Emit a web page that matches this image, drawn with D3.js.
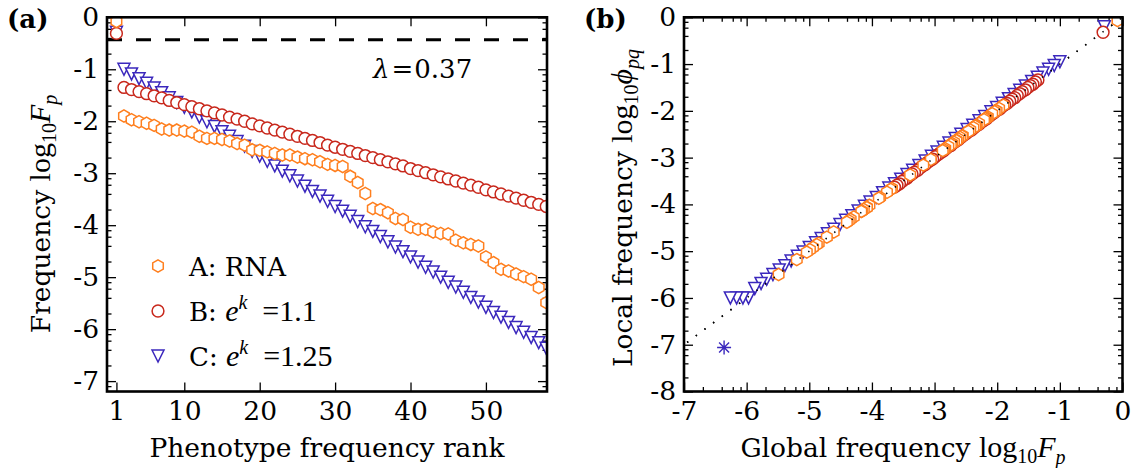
<!DOCTYPE html>
<html>
<head>
<meta charset="utf-8">
<script src="https://cdn.jsdelivr.net/npm/d3@7"></script>
<style>
  body { margin: 0; background: #fff; }
  svg text { font-family: "DejaVu Serif", serif; fill: #000; }
</style>
</head>
<body>
<div id="chart"></div>
<script>
const WIDTH = 1146, HEIGHT = 468;
const FONT = 26.5;

// phenotype rank, 1 = most frequent
const ranks = d3.range(1, 59);

// log10 of global phenotype frequency F_p, by rank
const freqA = [-0.08, -1.90, -1.97, -2.01, -2.04, -2.08, -2.15, -2.17, -2.17, -2.19, -2.21, -2.29, -2.33, -2.33, -2.35,
  -2.38, -2.43, -2.46, -2.55, -2.56, -2.59, -2.62, -2.65, -2.65, -2.69, -2.72, -2.74, -2.78, -2.83, -2.85, -2.87,
  -3.06, -3.18, -3.39, -3.68, -3.70, -3.76, -3.87, -3.89, -4.04, -4.08, -4.08, -4.13, -4.16, -4.17, -4.29, -4.34,
  -4.37, -4.40, -4.61, -4.72, -4.85, -4.88, -4.94, -4.99, -5.04, -5.20, -5.49];
const freqB = [-0.31, -1.35, -1.39, -1.43, -1.47, -1.51, -1.55, -1.60, -1.64, -1.68, -1.72, -1.76, -1.80, -1.84, -1.88,
  -1.92, -1.96, -2.00, -2.05, -2.09, -2.13, -2.17, -2.21, -2.25, -2.29, -2.33, -2.37, -2.41, -2.46, -2.50, -2.54,
  -2.58, -2.62, -2.66, -2.70, -2.74, -2.78, -2.82, -2.86, -2.91, -2.95, -2.99, -3.03, -3.07, -3.11, -3.15, -3.19,
  -3.23, -3.27, -3.32, -3.36, -3.40, -3.44, -3.48, -3.52, -3.56, -3.60, -3.64];
const freqC = [-0.29, -1.00, -1.09, -1.18, -1.27, -1.36, -1.45, -1.55, -1.64, -1.73, -1.82, -1.92, -2.01, -2.10, -2.20,
  -2.29, -2.39, -2.48, -2.58, -2.67, -2.77, -2.86, -2.96, -3.05, -3.15, -3.25, -3.35, -3.44, -3.54, -3.64, -3.73,
  -3.83, -3.93, -4.03, -4.12, -4.22, -4.32, -4.42, -4.51, -4.61, -4.71, -4.81, -4.90, -5.00, -5.10, -5.19, -5.29,
  -5.39, -5.48, -5.58, -5.68, -5.77, -5.87, -5.97, -6.06, -6.16, -6.26, -6.37];

// log10 of local frequency phi_pq, same order as above
const localA = [-0.07, -1.88, -1.95, -2.00, -2.02, -2.06, -2.13, -2.15, -2.16, -2.17, -2.19, -2.27, -2.31, -2.32, -2.33,
  -2.36, -2.41, -2.44, -2.53, -2.54, -2.57, -2.60, -2.63, -2.64, -2.67, -2.70, -2.72, -2.76, -2.81, -2.83, -2.85,
  -3.04, -3.16, -3.37, -3.66, -3.68, -3.74, -3.85, -3.87, -4.02, -4.06, -4.07, -4.11, -4.14, -4.15, -4.27, -4.32,
  -4.35, -4.38, -4.59, -4.70, -4.83, -4.86, -4.92, -4.97, -5.02, -5.18, -5.50];
const localB = [-0.32, -1.34, -1.38, -1.43, -1.46, -1.50, -1.55, -1.59, -1.63, -1.67, -1.72, -1.75, -1.79, -1.84, -1.87,
  -1.91, -1.96, -1.99, -2.04, -2.08, -2.12, -2.17, -2.20, -2.24, -2.29, -2.32, -2.36, -2.41, -2.45, -2.49, -2.53,
  -2.57, -2.62, -2.65, -2.69, -2.74, -2.77, -2.81, -2.86, -2.90, -2.94, -2.98, -3.03, -3.06, -3.10, -3.15, -3.18,
  -3.22, -3.27, -3.31, -3.35, -3.39, -3.44, -3.47, -3.51, -3.56, -3.59, -3.63];
// C: ranks 1..57 (rank 58 was never seen locally, drawn as a star)
const localC = [-0.20, -0.95, -1.03, -1.11, -1.19, -1.28, -1.37, -1.47, -1.56, -1.65, -1.74, -1.84, -1.93, -2.02, -2.12,
  -2.21, -2.31, -2.40, -2.50, -2.59, -2.69, -2.78, -2.88, -2.97, -3.07, -3.17, -3.27, -3.36, -3.46, -3.56, -3.65,
  -3.75, -3.85, -3.95, -4.04, -4.14, -4.24, -4.34, -4.43, -4.53, -4.63, -4.73, -4.82, -4.92, -5.02, -5.11, -5.21,
  -5.31, -5.40, -5.50, -5.60, -5.69, -5.80, -6.00, -6.00, -6.00, -6.00];
const missedGlobal = [-6.36];
const missedLocal = [-7.06];

const lambda = 0.37;

const rankTicks = [1, 10, 20, 30, 40, 50];
const freqTicks = [0, -1, -2, -3, -4, -5, -6, -7];
const globalTicks = [-7, -6, -5, -4, -3, -2, -1, 0];
const localTicks = [0, -1, -2, -3, -4, -5, -6, -7, -8];

const COLORS = {A: '#ff7f1e', B: '#c8281c', C: '#3b28bd'};

const svg = d3.select('#chart').append('svg')
    .attr('width', WIDTH)
    .attr('height', HEIGHT);

// scales
const xRank = d3.scaleLinear().domain([-0.25, 58.1]).range([107, 547]);
const yFreq = d3.scaleLinear().domain([-7.2, 0]).range([391.5, 17.3]);
const xGlobal = d3.scaleLinear().domain([-7, 0]).range([684, 1122.5]);
const yLocal = d3.scaleLinear().domain([-8, 0]).range([391.5, 17.3]);

// minor ticks at log10(2,4,6,8 x 10^n)
function logMinor(lo, hi) {
    let out = [];
    for (let d = Math.floor(lo); d < Math.ceil(hi); d++) {
        [2, 4, 6, 8].forEach(k => {
            let v = d + Math.log10(k);
            if (v > lo && v < hi) out.push(v);
        });
    }
    return out;
}

const fmt = d => String(d);

function styleAxis(sel) {
    sel.select('.domain').remove();
    sel.selectAll('line').attr('stroke', '#000').attr('stroke-width', 1.3);
    sel.attr('font-family', 'DejaVu Serif').attr('font-size', FONT);
}

function drawAxes(x, y, xMajor, yMajor, xMinor, yMinor) {
    let [l, r] = x.range();
    let [b, t] = y.range();
    let g = svg.append('g');

    g.append('g').attr('transform', `translate(0,${b})`)
        .call(d3.axisBottom(x).tickValues(xMajor).tickSize(-9).tickPadding(10).tickFormat(fmt)).call(styleAxis);
    g.append('g').attr('transform', `translate(0,${t})`)
        .call(d3.axisTop(x).tickValues(xMajor).tickSize(-9).tickFormat('')).call(styleAxis);
    g.append('g').attr('transform', `translate(${l},0)`)
        .call(d3.axisLeft(y).tickValues(yMajor).tickSize(-9).tickPadding(8).tickFormat(fmt)).call(styleAxis);
    g.append('g').attr('transform', `translate(${r},0)`)
        .call(d3.axisRight(y).tickValues(yMajor).tickSize(-9).tickFormat('')).call(styleAxis);

    if (xMinor.length) {
        g.append('g').attr('transform', `translate(0,${b})`)
            .call(d3.axisBottom(x).tickValues(xMinor).tickSize(-4.5).tickFormat('')).call(styleAxis);
        g.append('g').attr('transform', `translate(0,${t})`)
            .call(d3.axisTop(x).tickValues(xMinor).tickSize(-4.5).tickFormat('')).call(styleAxis);
    }
    g.append('g').attr('transform', `translate(${l},0)`)
        .call(d3.axisLeft(y).tickValues(yMinor).tickSize(-4.5).tickFormat('')).call(styleAxis);
    g.append('g').attr('transform', `translate(${r},0)`)
        .call(d3.axisRight(y).tickValues(yMinor).tickSize(-4.5).tickFormat('')).call(styleAxis);
}

function frame(x, y) {
    let [l, r] = x.range();
    let [b, t] = y.range();
    svg.append('rect')
        .attr('x', l).attr('y', t)
        .attr('width', r - l).attr('height', b - t)
        .attr('fill', 'none')
        .attr('stroke', '#000')
        .attr('stroke-width', 2.6);
}

function clipFor(id, x, y) {
    let [l, r] = x.range();
    let [b, t] = y.range();
    svg.append('clipPath').attr('id', id)
        .append('rect').attr('x', l).attr('y', t).attr('width', r - l).attr('height', b - t);
    return svg.append('g').attr('clip-path', `url(#${id})`);
}

// marker shapes
function hexPath(r) {
    let pts = d3.range(6).map(i => {
        let a = Math.PI / 3 * i - Math.PI / 2;
        return [r * Math.cos(a), r * Math.sin(a)];
    });
    return 'M' + pts.map(p => p[0].toFixed(2) + ',' + p[1].toFixed(2)).join('L') + 'Z';
}
const MARKERS = {
    A: hexPath(6.1),
    B: d3.arc()({innerRadius: 0, outerRadius: 5.9, startAngle: 0, endAngle: 2 * Math.PI}),
    C: 'M0,6L-6,-6L6,-6Z'
};

function drawMarkers(g, xs, ys, x, y, key) {
    g.append('g').selectAll('path')
        .data(xs.map((v, i) => [v, ys[i]]))
        .join('path')
        .attr('transform', d => `translate(${x(d[0])},${y(d[1])})`)
        .attr('d', MARKERS[key])
        .attr('fill', '#fff')
        .attr('stroke', COLORS[key])
        .attr('stroke-width', 1.5);
}

// ---------------- panel (a)
drawAxes(xRank, yFreq, rankTicks, freqTicks, [], logMinor(-7.2, 0));
let plotA = clipFor('clipA', xRank, yFreq);

plotA.append('line')
    .attr('x1', xRank(-0.25)).attr('x2', xRank(58.1))
    .attr('y1', yFreq(Math.log10(lambda))).attr('y2', yFreq(Math.log10(lambda)))
    .attr('stroke', '#000')
    .attr('stroke-width', 2.8)
    .attr('stroke-dasharray', '15,14');

drawMarkers(plotA, ranks, freqC, xRank, yFreq, 'C');
drawMarkers(plotA, ranks, freqB, xRank, yFreq, 'B');
drawMarkers(plotA, ranks, freqA, xRank, yFreq, 'A');
frame(xRank, yFreq);

svg.append('text')
    .attr('x', 373).attr('y', 78)
    .attr('font-family', 'Liberation Serif')
    .attr('font-size', 26)
    .call(t => {
        t.append('tspan').attr('font-style', 'italic').text('λ');
        t.append('tspan').attr('dx', 2).text('=');
        t.append('tspan').attr('dx', 1).text('0.37');
    });

// legend
const legendItems = [
    {key: 'A', y: 266},
    {key: 'B', y: 311},
    {key: 'C', y: 356}
];
let legend = svg.append('g');
legendItems.forEach(item => {
    legend.append('path')
        .attr('transform', `translate(158,${item.y})`)
        .attr('d', MARKERS[item.key])
        .attr('fill', '#fff')
        .attr('stroke', COLORS[item.key])
        .attr('stroke-width', 1.5);
    let t = legend.append('text')
        .attr('x', 189).attr('y', item.y + 10)
        .attr('font-size', 26);
    if (item.key === 'A') {
        t.text('A: RNA');
    } else {
        t.append('tspan').text(item.key + ': ');
        t.append('tspan').attr('font-family', 'Liberation Serif').attr('font-style', 'italic')
            .attr('font-size', 30).text('e');
        t.append('tspan').attr('font-family', 'Liberation Serif').attr('font-style', 'italic')
            .attr('font-size', 20).attr('dy', -12).text('k');
        t.append('tspan').attr('font-family', 'Liberation Serif')
            .attr('font-size', 30).attr('dy', 12)
            .text('\u2002=' + (item.key === 'B' ? '1.1' : '1.25'));
    }
});

// axis labels (a)
svg.append('text')
    .attr('x', 327).attr('y', 457)
    .attr('text-anchor', 'middle')
    .attr('font-size', FONT)
    .text('Phenotype frequency rank');

function mathLabel(t, word, sym, sub) {
    t.append('tspan').text(word + ' ');
    t.append('tspan').attr('font-family', 'Liberation Serif').attr('font-size', 30).text('log');
    t.append('tspan').attr('font-family', 'Liberation Serif').attr('font-size', 20).attr('dy', 6).text('10');
    t.append('tspan').attr('font-family', 'Liberation Serif').attr('font-style', 'italic')
        .attr('font-size', 30).attr('dy', -6).text(sym);
    t.append('tspan').attr('font-family', 'Liberation Serif').attr('font-style', 'italic')
        .attr('font-size', 20).attr('dy', 7).text(sub);
}

svg.append('text')
    .attr('transform', 'translate(50,214) rotate(-90)')
    .attr('text-anchor', 'middle')
    .attr('font-size', FONT)
    .call(t => mathLabel(t, 'Frequency', 'F', 'p'));

// ---------------- panel (b)
drawAxes(xGlobal, yLocal, globalTicks, localTicks, logMinor(-7, 0), logMinor(-8, 0));
let plotB = clipFor('clipB', xGlobal, yLocal);

const diag = [-6.95, 0];
function drawDiagonal() {
    plotB.append('line')
        .attr('x1', xGlobal(diag[0])).attr('y1', yLocal(diag[0]))
        .attr('x2', xGlobal(diag[1])).attr('y2', yLocal(diag[1]))
        .attr('stroke', '#000')
        .attr('stroke-width', 1.6)
        .attr('stroke-dasharray', '1.4,9.4');
}
drawDiagonal();

drawMarkers(plotB, freqC.slice(0, localC.length), localC, xGlobal, yLocal, 'C');
drawMarkers(plotB, freqB, localB, xGlobal, yLocal, 'B');
drawMarkers(plotB, freqA, localA, xGlobal, yLocal, 'A');

// phenotype of C never found locally
plotB.append('g').selectAll('path')
    .data(missedGlobal.map((v, i) => [v, missedLocal[i]]))
    .join('path')
    .attr('transform', d => `translate(${xGlobal(d[0])},${yLocal(d[1])})`)
    .attr('d', 'M-7,0L7,0M0,-7L0,7M-5,-5L5,5M-5,5L5,-5')
    .attr('stroke', COLORS.C)
    .attr('stroke-width', 1.4);

// dots of the reference line show through open markers
drawDiagonal();

frame(xGlobal, yLocal);

svg.append('text')
    .attr('x', 903).attr('y', 457)
    .attr('text-anchor', 'middle')
    .attr('font-size', FONT)
    .call(t => mathLabel(t, 'Global frequency', 'F', 'p'));

svg.append('text')
    .attr('transform', 'translate(632,208) rotate(-90)')
    .attr('text-anchor', 'middle')
    .attr('font-size', FONT)
    .call(t => mathLabel(t, 'Local frequency', '\u03D5', 'pq'));

// panel letters
svg.append('text').attr('x', 7).attr('y', 28)
    .attr('font-weight', 'bold').attr('font-size', 26).text('(a)');
svg.append('text').attr('x', 584).attr('y', 28)
    .attr('font-weight', 'bold').attr('font-size', 26).text('(b)');
</script>
</body>
</html>
